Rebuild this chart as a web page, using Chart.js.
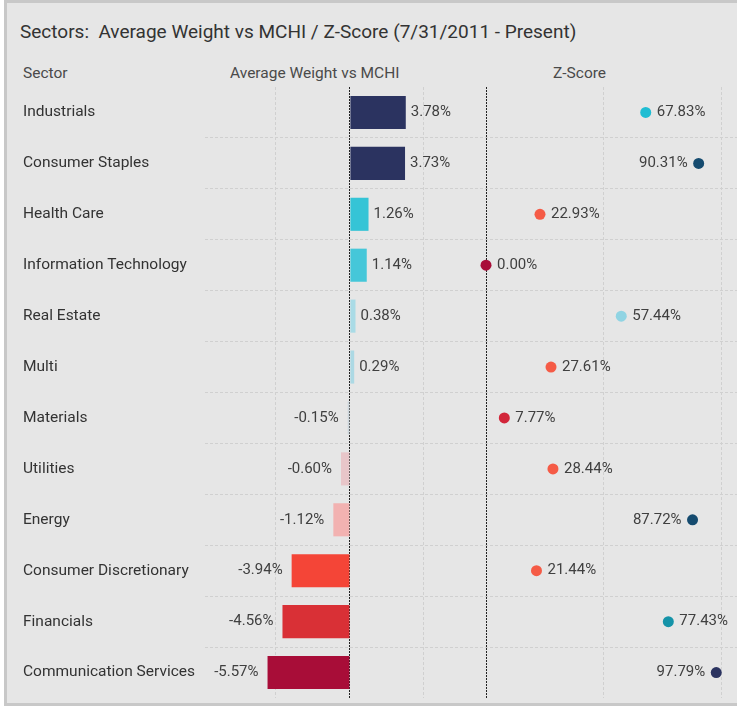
<!DOCTYPE html>
<html>
<head>
<meta charset="utf-8">
<script src="https://cdn.jsdelivr.net/npm/chart.js@4/dist/chart.umd.min.js"></script>
<style>
  html, body { margin: 0; padding: 0; background: #fff; overflow: hidden; }
  body { width: 737px; height: 707px; position: relative; font-family: Roboto, sans-serif; }
  #panel { position: absolute; left: 4px; top: 0; width: 770px; height: 700px; background: #e6e6e6; border: 3px solid #c8c8c8; }
  .txt { position: absolute; color: #333; white-space: nowrap; }
  #title { left: 20px; top: 20px; font-size: 19px; }
  .hdr { top: 64px; font-size: 15.5px; color: #4a4a4a; }
  #wrapBar { position: absolute; left: 0; top: 87px; width: 480px; height: 611px; }
  #wrapZ { position: absolute; left: 480px; top: 87px; width: 257px; height: 611px; }
</style>
</head>
<body>
<div id="panel"></div>
<div class="txt" id="title">Sectors:&nbsp; Average Weight vs MCHI / Z-Score (7/31/2011 - Present)</div>
<div class="txt hdr" style="left:23px">Sector</div>
<div class="txt hdr" style="left:230px">Average Weight vs MCHI</div>
<div class="txt hdr" style="left:553px">Z-Score</div>
<div id="wrapBar"><canvas id="barChart"></canvas></div>
<div id="wrapZ"><canvas id="zChart"></canvas></div>

<script>
// sektory a hodnoty
var sectors = ['Industrials', 'Consumer Staples', 'Health Care', 'Information Technology', 'Real Estate', 'Multi',
    'Materials', 'Utilities', 'Energy', 'Consumer Discretionary', 'Financials', 'Communication Services'];
var avgWeight = [3.78, 3.73, 1.26, 1.14, 0.38, 0.29, -0.15, -0.60, -1.12, -3.94, -4.56, -5.57];
var zScores = [67.83, 90.31, 22.93, 0.00, 57.44, 27.61, 7.77, 28.44, 87.72, 21.44, 77.43, 97.79];

// mřížka os
var weightGridTicks = [-5, 0, 5];
var zGridTicks = [0, 50, 100];

// barvy
var barColors = ['#2b3360', '#2b3360', '#35c4d6', '#45c7d9', '#a9dbe6', '#acd9e4',
    '#cdd6dc', '#e8c6c9', '#f2b2b1', '#f44537', '#d93036', '#a80d38'];
var dotColors = ['#1fbdd3', '#154b6f', '#f55b46', '#a80d38', '#90d4e3', '#f55b46',
    '#d2263a', '#f55b46', '#154b6f', '#f55b46', '#1593a8', '#2b3360'];

var gridColor = '#d0d0d0';
var labelFont = '15px Roboto';
var labelColor = '#404040';

function fmt(v) { return v.toFixed(2) + '%'; }

// popisky u sloupců
var barLabels = {
    id: 'barLabels',
    afterDatasetsDraw: function (chart) {
        var ctx = chart.ctx;
        var meta = chart.getDatasetMeta(0);
        ctx.save();
        ctx.font = labelFont;
        ctx.fillStyle = labelColor;
        ctx.textBaseline = 'middle';
        meta.data.forEach(function (el, i) {
            var v = avgWeight[i];
            if (v >= 0) {
                ctx.textAlign = 'left';
                ctx.fillText(fmt(v), el.x + 5, el.y);
            } else {
                ctx.textAlign = 'right';
                ctx.fillText(fmt(v), el.x - 9, el.y);
            }
        });
        ctx.restore();
    }
};

// popisky u bodů
var dotLabels = {
    id: 'dotLabels',
    afterDatasetsDraw: function (chart) {
        var ctx = chart.ctx;
        var meta = chart.getDatasetMeta(0);
        ctx.save();
        ctx.font = labelFont;
        ctx.fillStyle = labelColor;
        ctx.textBaseline = 'middle';
        meta.data.forEach(function (el, i) {
            var v = zScores[i];
            if (v > 80) {
                ctx.textAlign = 'right';
                ctx.fillText(fmt(v), el.x - 11, el.y);
            } else {
                ctx.textAlign = 'left';
                ctx.fillText(fmt(v), el.x + 11, el.y);
            }
        });
        ctx.restore();
    }
};

function valueGrid(ctx) {
    if (ctx.type !== 'tick') return 'transparent';
    return ctx.tick.value === 0 ? '#222' : gridColor;
}
function valueDash(ctx) {
    return (ctx.type === 'tick' && ctx.tick.value === 0) ? [2, 1] : [3, 2];
}
function rowGrid(ctx) {
    return (ctx.type === 'tick' && ctx.index > 0) ? gridColor : 'transparent';
}

Chart.defaults.font.family = 'Roboto';

var barChart = new Chart(document.getElementById('barChart'), {
    type: 'bar',
    data: {
        labels: sectors,
        datasets: [{
            data: avgWeight,
            backgroundColor: barColors,
            borderWidth: 0,
            barPercentage: 0.65,
            categoryPercentage: 1
        }]
    },
    options: {
        indexAxis: 'y',
        animation: false,
        responsive: true,
        maintainAspectRatio: false,
        layout: { autoPadding: false, padding: { left: 23, right: 0, top: 0, bottom: 0 } },
        plugins: { legend: { display: false }, tooltip: { enabled: false } },
        scales: {
            x: {
                min: -9.8,
                max: 8.8,
                afterBuildTicks: function (s) { s.ticks = weightGridTicks.map(function (v) { return { value: v }; }); },
                ticks: { display: false },
                grid: { drawTicks: false, color: valueGrid },
                border: { display: false, dash: valueDash },
                afterFit: function (s) { s.height = 0; s.paddingLeft = 0; s.paddingRight = 0; }
            },
            y: {
                ticks: { crossAlign: 'far', color: '#333', font: { size: 15.5 }, padding: 0 },
                grid: { drawTicks: false, color: rowGrid },
                border: { display: false, dash: [3, 2] },
                afterFit: function (s) { s.width = 205 - 23; s.paddingTop = 0; s.paddingBottom = 0; }
            }
        }
    },
    plugins: [barLabels]
});

var zChart = new Chart(document.getElementById('zChart'), {
    type: 'line',
    data: {
        labels: sectors,
        datasets: [{
            data: zScores,
            showLine: false,
            pointRadius: 5.5,
            pointHoverRadius: 5.5,
            pointBackgroundColor: dotColors,
            pointBorderWidth: 0,
            clip: false
        }]
    },
    options: {
        indexAxis: 'y',
        animation: false,
        responsive: true,
        maintainAspectRatio: false,
        layout: { autoPadding: false, padding: 0 },
        plugins: { legend: { display: false }, tooltip: { enabled: false } },
        scales: {
            x: {
                type: 'linear',
                min: -2.55,
                max: 106.6,
                afterBuildTicks: function (s) { s.ticks = zGridTicks.map(function (v) { return { value: v }; }); },
                ticks: { display: false },
                grid: { drawTicks: false, color: valueGrid },
                border: { display: false, dash: valueDash },
                afterFit: function (s) { s.height = 0; s.paddingLeft = 0; s.paddingRight = 0; }
            },
            y: {
                type: 'category',
                offset: true,
                ticks: { display: false },
                grid: { offset: true, drawTicks: false, color: rowGrid },
                border: { display: false, dash: [3, 2] },
                afterFit: function (s) { s.width = 0; s.paddingTop = 0; s.paddingBottom = 0; }
            }
        }
    },
    plugins: [dotLabels]
});
</script>
</body>
</html>
